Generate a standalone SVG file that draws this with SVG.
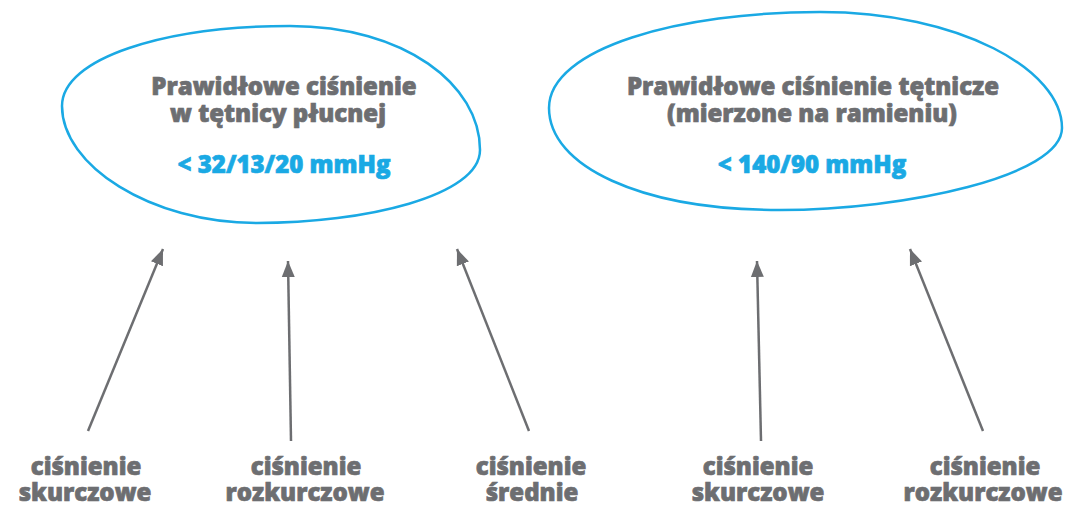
<svg xmlns="http://www.w3.org/2000/svg" width="1065" height="507" viewBox="0 0 1065 507">
<style>
.blob{fill:none;stroke:#1aa9e4;stroke-width:2.5}
.t{font-family:"Open Sans","Liberation Sans",sans-serif;font-weight:800;font-size:24px;fill:#6d6e71;stroke:#6d6e71;stroke-width:0.7;text-anchor:middle}
.v{fill:#1aa9e4;stroke:#1aa9e4}
.c{stroke:#6d6e71;stroke-width:2.5;fill:none}
</style>
<defs>
<marker id="ah" markerUnits="userSpaceOnUse" markerWidth="17" markerHeight="14" refX="16" refY="6.5" orient="auto" viewBox="0 0 17 13">
<path d="M0,0 L16,6.5 L0,13 Z" fill="#6d6e71"/>
</marker>
</defs>
<g id="node-pulmonary">
<path class="blob" d="M62,106 C62,58 165,26 290,26 C405,26 480,85 480,150 C480,196 365,223 257,223 C150,223 62,165 62,106 Z"/>
<text class="t"><tspan x="284" y="95">Prawidłowe ciśnienie</tspan><tspan x="278" y="122">w tętnicy płucnej</tspan></text>
<text class="t v" x="284" y="173">&lt; 32/13/20 mmHg</text>
</g>
<g id="node-arterial">
<path class="blob" d="M549,108 C549,48 680,12 820,12 C960,12 1062,70 1062,128 C1062,176 905,210 780,210 C640,210 549,166 549,108 Z"/>
<text class="t"><tspan x="813" y="95">Prawidłowe ciśnienie tętnicze</tspan><tspan x="812" y="122">(mierzone na ramieniu)</tspan></text>
<text class="t v" x="812" y="173">&lt; 140/90 mmHg</text>
</g>
<g id="label-1"><text class="t"><tspan x="86" y="475">ciśnienie</tspan><tspan x="85" y="501">skurczowe</tspan></text></g>
<g id="label-2"><text class="t"><tspan x="306" y="475">ciśnienie</tspan><tspan x="305" y="501">rozkurczowe</tspan></text></g>
<g id="label-3"><text class="t"><tspan x="531" y="475">ciśnienie</tspan><tspan x="532" y="501">średnie</tspan></text></g>
<g id="label-4"><text class="t"><tspan x="758" y="475">ciśnienie</tspan><tspan x="758" y="501">skurczowe</tspan></text></g>
<g id="label-5"><text class="t"><tspan x="985" y="475">ciśnienie</tspan><tspan x="983" y="501">rozkurczowe</tspan></text></g>
<g id="connectors">
<line class="c" x1="88" y1="431" x2="163" y2="249" marker-end="url(#ah)"/>
<line class="c" x1="291" y1="441" x2="288" y2="261" marker-end="url(#ah)"/>
<line class="c" x1="529" y1="431" x2="457" y2="249" marker-end="url(#ah)"/>
<line class="c" x1="761" y1="441" x2="757" y2="261" marker-end="url(#ah)"/>
<line class="c" x1="983" y1="431" x2="910" y2="249" marker-end="url(#ah)"/>
</g>
</svg>
